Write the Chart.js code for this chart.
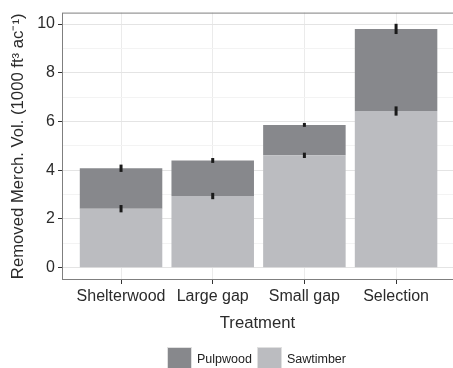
<!DOCTYPE html>
<html lang="en">
<head>
<meta charset="UTF-8">
<title>Removed merchantable volume by treatment</title>
<script src="https://cdn.jsdelivr.net/npm/chart.js@4.4.7/dist/chart.umd.min.js"></script>
<style>
  * { margin: 0; padding: 0; box-sizing: border-box; }
  body { width: 453px; height: 368px; overflow: hidden; background: #fff;
         font-family: 'Liberation Sans', Arial, sans-serif; }
  .wrap { position: relative; width: 453px; height: 368px; }
  canvas { display: block; }
  .legend { position: absolute; top: 347px; left: 167px; display: flex; align-items: flex-start;
            font-size: 12.5px; color: #222; }
  .legend-item { display: flex; align-items: center; margin-right: 5px; }
  .legend-key { width: 25px; height: 24px; border: 1px solid #e0e0e0; margin-right: 5px; }
</style>
</head>
<body>
<div class="wrap">
  <canvas id="chart" width="453" height="368"></canvas>
  <div class="legend" id="legend"></div>
</div>
<script>
  const categories = ['Shelterwood', 'Large gap', 'Small gap', 'Selection'];
  const sawtimber = [2.42, 2.94, 4.61, 6.43];
  const pulpwood = [1.66, 1.46, 1.25, 3.37];
  const sawErr = [0.15, 0.13, 0.11, 0.19];
  const pulpErr = [0.15, 0.10, 0.08, 0.21];
  const yTicks = [0, 2, 4, 6, 8, 10];

  const colPulp = '#87888c';
  const colSaw = '#bbbcc0';
  const textCol = '#2b2b2b';
  const fontFam = "'Liberation Sans', Arial, sans-serif";

  // error bars + panel border
  const errorBars = {
    id: 'errorBars',
    afterDatasetsDraw(chart) {
      const { ctx, scales: { x, y } } = chart;
      ctx.save();
      ctx.strokeStyle = '#1a1a1a';
      ctx.lineWidth = 3;
      categories.forEach((c, i) => {
        const px = x.getPixelForValue(i + 1);
        [[sawtimber[i], sawErr[i]], [sawtimber[i] + pulpwood[i], pulpErr[i]]].forEach(([v, e]) => {
          ctx.beginPath();
          ctx.moveTo(px, y.getPixelForValue(v - e));
          ctx.lineTo(px, y.getPixelForValue(v + e));
          ctx.stroke();
        });
      });
      const a = chart.chartArea;
      ctx.strokeStyle = '#7f7f7f';
      ctx.lineWidth = 1;
      ctx.strokeRect(a.left + 0.5, a.top + 0.5, a.width, a.height - 1);
      ctx.restore();
    }
  };

  const isMajor = v => yTicks.includes(Math.round(v * 1000) / 1000);

  new Chart(document.getElementById('chart'), {
    type: 'bar',
    data: {
      datasets: [
        {
          label: 'Sawtimber',
          data: categories.map((c, i) => ({ x: i + 1, y: sawtimber[i] })),
          backgroundColor: colSaw,
          borderWidth: 0,
          barPercentage: 0.9,
          categoryPercentage: 1,
        },
        {
          label: 'Pulpwood',
          data: categories.map((c, i) => ({ x: i + 1, y: pulpwood[i] })),
          backgroundColor: colPulp,
          borderWidth: 0,
          barPercentage: 0.9,
          categoryPercentage: 1,
        }
      ]
    },
    options: {
      responsive: false,
      animation: false,
      layout: { padding: { top: 9, right: 0, bottom: 35, left: 0 } },
      plugins: { legend: { display: false }, tooltip: { enabled: false } },
      scales: {
        x: {
          type: 'linear',
          stacked: true,
          offset: false,
          min: 0.356,
          max: 4.621,
          afterFit: s => { s.height = 53; },
          border: { display: false },
          grid: { offset: false, color: '#ebebeb', tickColor: '#333', tickLength: 4 },
          ticks: {
            stepSize: 1,
            includeBounds: false,
            padding: 3,
            color: textCol,
            font: { size: 16, family: fontFam },
            callback: v => categories[v - 1] || ''
          },
          title: {
            display: true,
            text: 'Treatment',
            color: textCol,
            padding: { top: 4, bottom: 0 },
            font: { size: 16.7, family: fontFam }
          }
        },
        y: {
          stacked: true,
          min: -0.507,
          max: 10.47,
          afterFit: s => { s.width = 62; },
          border: { display: false },
          grid: {
            color: ctx => isMajor(ctx.tick.value) ? '#e4e4e4' : '#f3f3f3',
            tickColor: ctx => isMajor(ctx.tick.value) ? '#333' : 'rgba(0,0,0,0)',
            tickLength: 4
          },
          ticks: {
            stepSize: 1,
            includeBounds: false,
            padding: 3,
            color: textCol,
            font: { size: 16, family: fontFam },
            callback: v => isMajor(v) ? String(v) : ''
          },
          title: {
            display: true,
            text: 'Removed Merch. Vol. (1000 ft³ ac⁻¹)',
            color: textCol,
            padding: { top: 8, bottom: 2 },
            font: { size: 16.7, family: fontFam }
          }
        }
      }
    },
    plugins: [errorBars]
  });

  // legend
  const legendEl = document.getElementById('legend');
  [['Pulpwood', colPulp], ['Sawtimber', colSaw]].forEach(([label, col]) => {
    legendEl.innerHTML += '<div class="legend-item">' +
      '<span class="legend-key" style="background:' + col + '"></span>' +
      '<span>' + label + '</span></div>';
  });
</script>
</body>
</html>
